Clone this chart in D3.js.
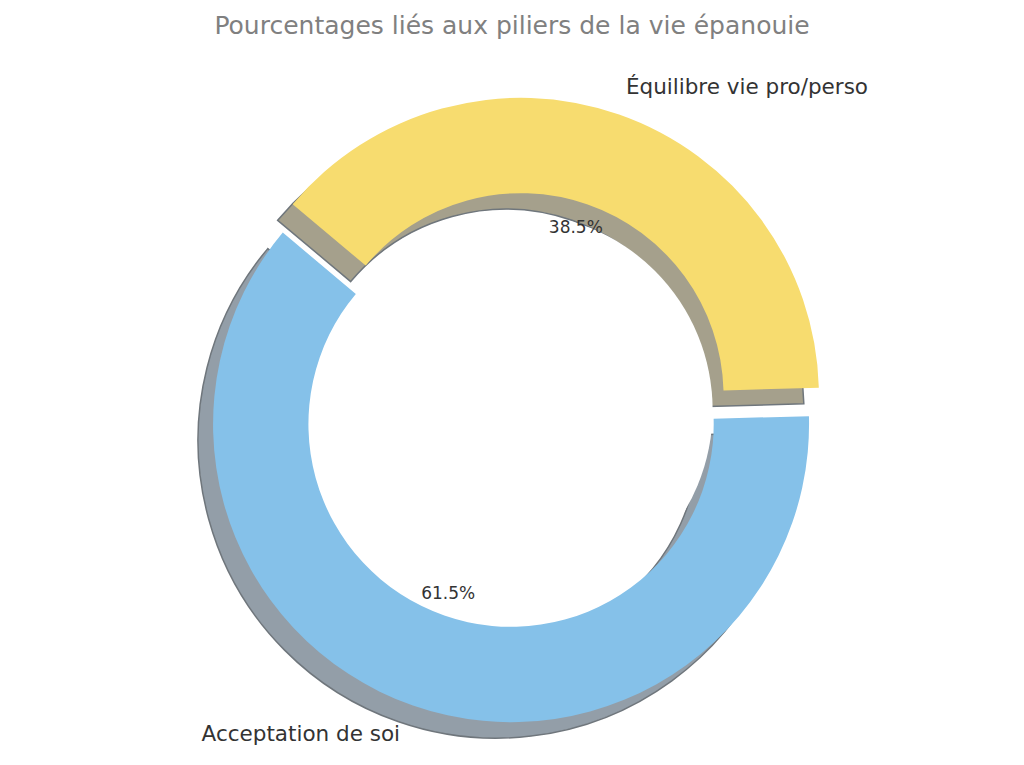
<!DOCTYPE html>
<html><head><meta charset="utf-8">
<script src="https://cdn.jsdelivr.net/npm/d3@7"></script>
<style>body{margin:0;background:#fff}text{font-family:"DejaVu Sans",sans-serif}</style>
</head><body>
<svg id="chart" width="1024" height="765"></svg>
<script>
const labels = ['Acceptation de soi', 'Équilibre vie pro/perso'];
const values = [8, 5];
const colors = ['#85C1E9', '#F7DC6F'];
const shadowColors = ['#939ea8', '#a5a08c'];

const svg = d3.select('#chart');
const cx = 516, cy = 410, R = 298, inner = R * 0.68, explode = 15, startDeg = 140;
const total = d3.sum(values);
const rad = d => d * Math.PI / 180;

// matplotlib-style slices, counterclockwise from startDeg
let acc = startDeg;
const slices = values.map((v, i) => {
  const a0 = acc, a1 = acc + v / total * 360;
  acc = a1;
  const mid = rad((a0 + a1) / 2);
  return { i, a0, a1, mid, dx: explode * Math.cos(mid), dy: -explode * Math.sin(mid) };
});

const arc = d3.arc().innerRadius(inner).outerRadius(R);
const path = s => arc({ startAngle: rad(90 - s.a1), endAngle: rad(90 - s.a0) });

svg.append('text').attr('x', 512).attr('y', 34).attr('text-anchor', 'middle')
  .attr('font-size', 25).attr('fill', '#808080').text('Pourcentages liés aux piliers de la vie épanouie');

// shadows
slices.forEach(s => {
  svg.append('path').attr('d', path(s))
    .attr('transform', `translate(${cx + s.dx - 15},${cy + s.dy + 16})`)
    .attr('fill', shadowColors[s.i]).attr('stroke', '#6f767c').attr('stroke-width', 1.5);
});
// keep the hole clean
svg.append('circle').attr('cx', cx).attr('cy', cy).attr('r', inner - 6).attr('fill', '#fff');

slices.forEach(s => {
  svg.append('path').attr('d', path(s))
    .attr('transform', `translate(${cx + s.dx},${cy + s.dy})`)
    .attr('fill', colors[s.i]);
  const px = cx + s.dx + 0.6 * R * Math.cos(s.mid), py = cy + s.dy - 0.6 * R * Math.sin(s.mid);
  svg.append('text').attr('x', px - 4).attr('y', py).attr('dy', '0.35em').attr('text-anchor', 'middle')
    .attr('font-size', 17).attr('fill', '#333').text((values[s.i] / total * 100).toFixed(1) + '%');
  const lx = cx + s.dx + 1.1 * R * Math.cos(s.mid), ly = cy + s.dy - 1.1 * R * Math.sin(s.mid);
  svg.append('text').attr('x', lx - 3).attr('y', ly).attr('dy', '0.35em')
    .attr('text-anchor', Math.cos(s.mid) < 0 ? 'end' : 'start')
    .attr('font-size', 21.5).attr('fill', '#333').text(labels[s.i]);
});
</script>
</body></html>
